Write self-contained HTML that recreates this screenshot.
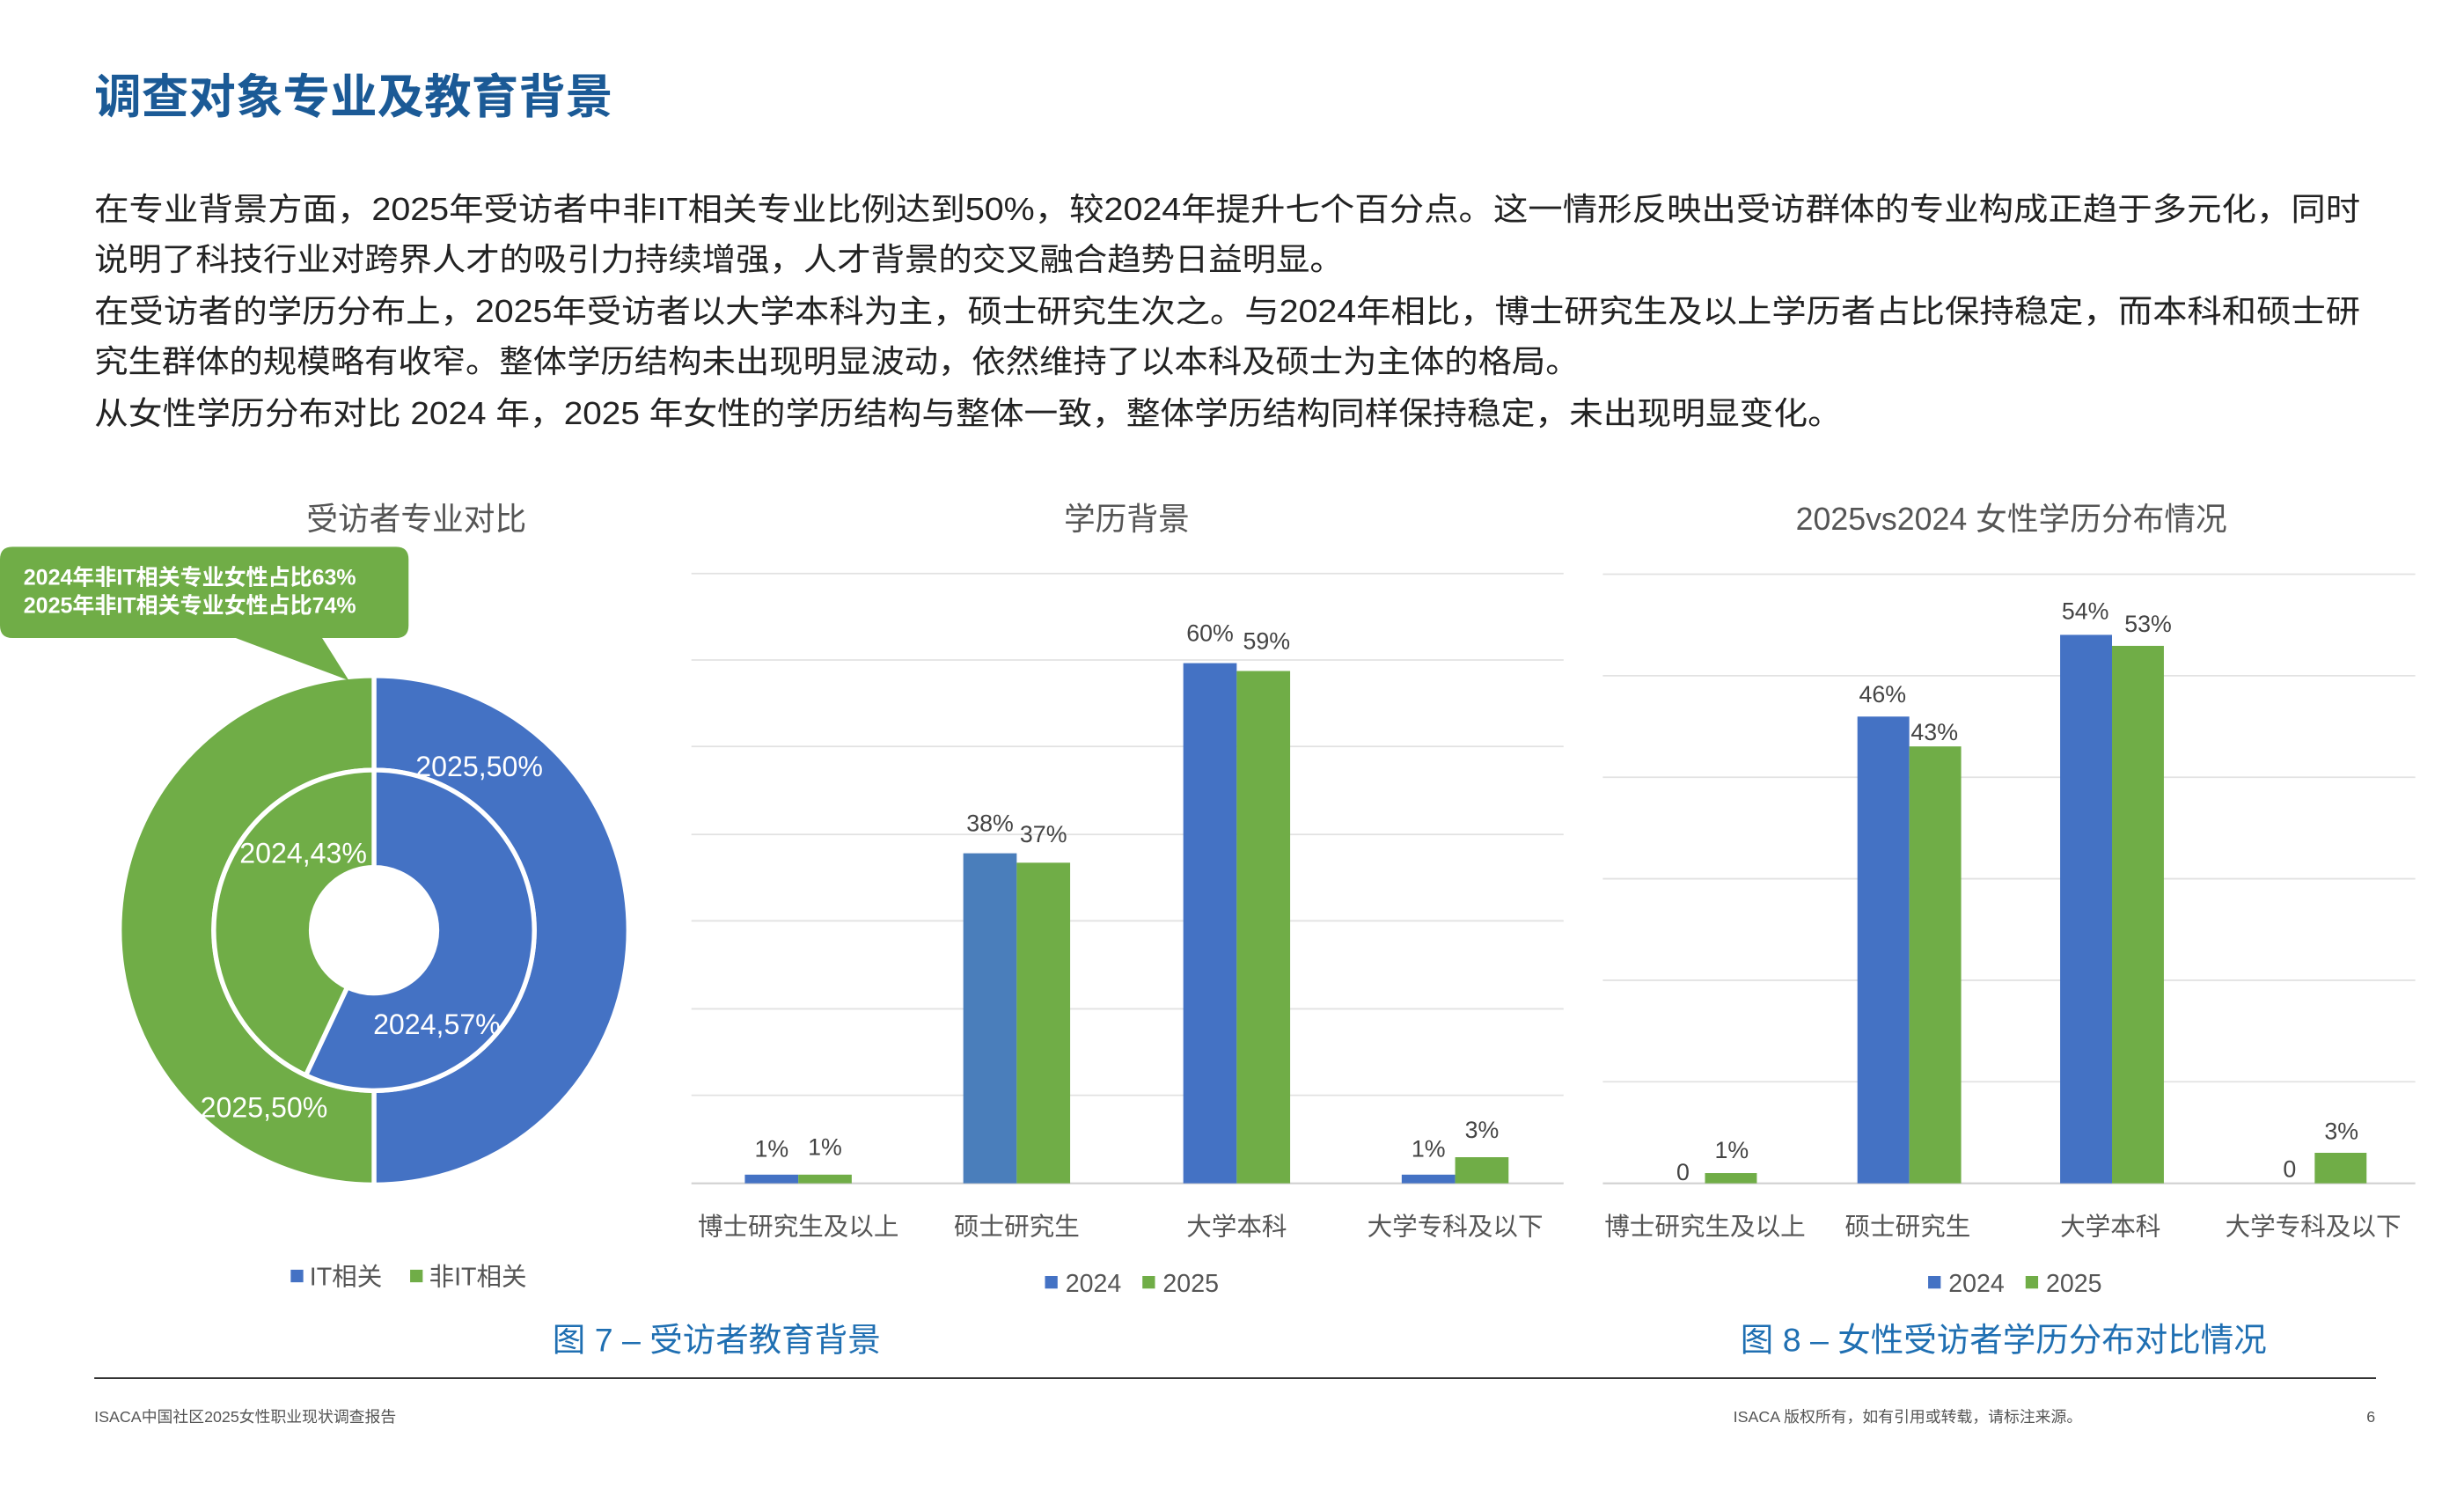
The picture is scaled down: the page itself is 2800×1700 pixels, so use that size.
<!DOCTYPE html>
<html><head><meta charset="utf-8"><style>
html,body{margin:0;padding:0;background:#fff;}
svg{display:block;}
text{font-family:"Liberation Sans","Noto Sans CJK SC",sans-serif;}
</style></head><body>
<svg width="2800" height="1700" viewBox="0 0 1568 952" preserveAspectRatio="none" xmlns="http://www.w3.org/2000/svg">
<rect width="1568" height="952" fill="#fff"/>
<text x="60" y="72" font-size="30" font-weight="bold" fill="#1b5a96">调查对象专业及教育背景</text>
<g font-size="20" fill="#222">
<text x="60" y="140" textLength="1442" lengthAdjust="spacingAndGlyphs">在专业背景方面，2025年受访者中非IT相关专业比例达到50%，较2024年提升七个百分点。这一情形反映出受访群体的专业构成正趋于多元化，同时</text>
<text x="60" y="172" textLength="795" lengthAdjust="spacingAndGlyphs">说明了科技行业对跨界人才的吸引力持续增强，人才背景的交叉融合趋势日益明显。</text>
<text x="60" y="205" textLength="1442" lengthAdjust="spacingAndGlyphs">在受访者的学历分布上，2025年受访者以大学本科为主，硕士研究生次之。与2024年相比，博士研究生及以上学历者占比保持稳定，而本科和硕士研</text>
<text x="60" y="237" textLength="945" lengthAdjust="spacingAndGlyphs">究生群体的规模略有收窄。整体学历结构未出现明显波动，依然维持了以本科及硕士为主体的格局。</text>
<text x="60" y="270" textLength="1112" lengthAdjust="spacingAndGlyphs">从女性学历分布对比 2024 年，2025 年女性的学历结构与整体一致，整体学历结构同样保持稳定，未出现明显变化。</text>
</g>
<!-- chart 1 -->
<text x="265" y="337" font-size="20" fill="#555" text-anchor="middle">受访者专业对比</text>
<g stroke="#fff" stroke-width="3">
<path d="M238,430 A162,162 0 0 1 238,754 L238,694 A102,102 0 0 0 238,490 Z" fill="#4472c4"/>
<path d="M238,430 A162,162 0 0 0 238,754 L238,694 A102,102 0 0 1 238,490 Z" fill="#70ad47"/>
<path d="M238,490 A102,102 0 1 1 194.6,684.3 L221,628.2 A40,40 0 1 0 238,552 Z" fill="#4472c4"/>
<path d="M194.6,684.3 A102,102 0 0 1 238,490 L238,552 A40,40 0 0 0 221,628.2 Z" fill="#70ad47"/>
</g>
<path d="M8,348 H252 Q260,348 260,356 V398 Q260,406 252,406 H205 L222,433 L150,406 H8 Q0,406 0,398 V356 Q0,348 8,348 Z" fill="#70ad47"/>
<text x="15" y="372" font-size="14" font-weight="bold" fill="#fff">2024年非IT相关专业女性占比63%</text>
<text x="15" y="390" font-size="14" font-weight="bold" fill="#fff">2025年非IT相关专业女性占比74%</text>
<g font-size="18" fill="#fff" text-anchor="middle">
<text x="305" y="494">2025,50%</text>
<text x="193" y="549">2024,43%</text>
<text x="278" y="658">2024,57%</text>
<text x="168" y="711">2025,50%</text>
</g>
<rect x="185" y="808" width="8" height="8" fill="#4472c4"/>
<text x="197" y="818" font-size="16" fill="#555">IT相关</text>
<rect x="261" y="808" width="8" height="8" fill="#70ad47"/>
<text x="273" y="818" font-size="16" fill="#555">非IT相关</text>
<!-- chart 2 -->
<text x="717" y="337" font-size="20" fill="#555" text-anchor="middle">学历背景</text>
<g stroke="#e2e2e2" stroke-width="1">
<line x1="440" x2="995" y1="365" y2="365"/><line x1="440" x2="995" y1="420" y2="420"/>
<line x1="440" x2="995" y1="475" y2="475"/><line x1="440" x2="995" y1="531" y2="531"/>
<line x1="440" x2="995" y1="586" y2="586"/><line x1="440" x2="995" y1="642" y2="642"/>
<line x1="440" x2="995" y1="697" y2="697"/>
</g>
<line x1="440" x2="995" y1="753" y2="753" stroke="#d0d0d0" stroke-width="1.2"/>
<rect x="474" y="747.5" width="34" height="5.5" fill="#4472c4"/>
<rect x="508" y="747.5" width="34" height="5.5" fill="#70ad47"/>
<rect x="613" y="543" width="34" height="210" fill="#4a7ebb"/>
<rect x="647" y="549" width="34" height="204" fill="#70ad47"/>
<rect x="753" y="422" width="34" height="331" fill="#4472c4"/>
<rect x="787" y="427" width="34" height="326" fill="#70ad47"/>
<rect x="892" y="747.5" width="34" height="5.5" fill="#4472c4"/>
<rect x="926" y="736.4" width="34" height="16.6" fill="#70ad47"/>
<g font-size="15" fill="#444" text-anchor="middle">
<text x="491" y="736">1%</text><text x="525" y="735">1%</text>
<text x="630" y="529">38%</text><text x="664" y="536">37%</text>
<text x="770" y="408">60%</text><text x="806" y="413">59%</text>
<text x="909" y="736">1%</text><text x="943" y="724">3%</text>
</g>
<g font-size="16" fill="#555" text-anchor="middle">
<text x="508" y="786">博士研究生及以上</text><text x="647" y="786">硕士研究生</text>
<text x="787" y="786">大学本科</text><text x="926" y="786">大学专科及以下</text>
</g>
<rect x="665" y="812" width="8" height="8" fill="#4472c4"/>
<text x="678" y="822" font-size="16" fill="#555">2024</text>
<rect x="727" y="812" width="8" height="8" fill="#70ad47"/>
<text x="740" y="822" font-size="16" fill="#555">2025</text>
<!-- chart 3 -->
<text x="1280" y="337" font-size="20" fill="#555" text-anchor="middle">2025vs2024 女性学历分布情况</text>
<g stroke="#e2e2e2" stroke-width="1">
<line x1="1020" x2="1537" y1="365.4" y2="365.4"/><line x1="1020" x2="1537" y1="430" y2="430"/>
<line x1="1020" x2="1537" y1="494.6" y2="494.6"/><line x1="1020" x2="1537" y1="559.2" y2="559.2"/>
<line x1="1020" x2="1537" y1="623.8" y2="623.8"/><line x1="1020" x2="1537" y1="688.4" y2="688.4"/>
</g>
<line x1="1020" x2="1537" y1="753" y2="753" stroke="#d0d0d0" stroke-width="1.2"/>
<rect x="1085" y="746.5" width="33" height="6.5" fill="#70ad47"/>
<rect x="1182" y="456" width="33" height="297" fill="#4472c4"/>
<rect x="1215" y="475" width="33" height="278" fill="#70ad47"/>
<rect x="1311" y="404" width="33" height="349" fill="#4472c4"/>
<rect x="1344" y="411" width="33" height="342" fill="#70ad47"/>
<rect x="1473" y="733.6" width="33" height="19.4" fill="#70ad47"/>
<g font-size="15" fill="#444" text-anchor="middle">
<text x="1071" y="751">0</text><text x="1102" y="737">1%</text>
<text x="1198" y="447">46%</text><text x="1231" y="471">43%</text>
<text x="1327" y="394">54%</text><text x="1367" y="402">53%</text>
<text x="1457" y="749">0</text><text x="1490" y="725">3%</text>
</g>
<g font-size="16" fill="#555" text-anchor="middle">
<text x="1085" y="786">博士研究生及以上</text><text x="1214" y="786">硕士研究生</text>
<text x="1343" y="786">大学本科</text><text x="1472" y="786">大学专科及以下</text>
</g>
<rect x="1227" y="812" width="8" height="8" fill="#4472c4"/>
<text x="1240" y="822" font-size="16" fill="#555">2024</text>
<rect x="1289" y="812" width="8" height="8" fill="#70ad47"/>
<text x="1302" y="822" font-size="16" fill="#555">2025</text>
<!-- captions -->
<text x="456" y="860" font-size="21" fill="#1f6fb2" text-anchor="middle">图 7 – 受访者教育背景</text>
<text x="1275" y="860" font-size="21" fill="#1f6fb2" text-anchor="middle">图 8 – 女性受访者学历分布对比情况</text>
<line x1="60" x2="1512" y1="877" y2="877" stroke="#333" stroke-width="1"/>
<text x="60" y="905" font-size="10" fill="#555">ISACA中国社区2025女性职业现状调查报告</text>
<text x="1103" y="905" font-size="10" fill="#555">ISACA 版权所有，如有引用或转载，请标注来源。</text>
<text x="1506" y="905" font-size="10" fill="#555">6</text>
</svg>
</body></html>
